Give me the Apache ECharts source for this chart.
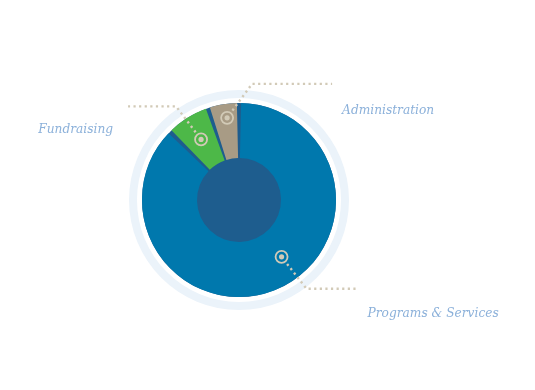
<!DOCTYPE html>
<html>
<head>
<meta charset="utf-8">
<script src="https://cdn.jsdelivr.net/npm/echarts@6/dist/echarts.min.js"></script>
<style>
  html, body { margin: 0; padding: 0; background: #ffffff; }
  #chart { width: 535px; height: 390px; }
</style>
</head>
<body>
<div id="chart"></div>
<script>
// ---- data ----
const categories = ['Programs & Services', 'Fundraising', 'Administration'];
const values = [87.4, 7.4, 5.2];
const sliceColors = ['#0078ad', '#4db848', '#a89b85'];

// ---- layout (not data) ----
const CX = 239, CY = 200, R_OUT = 97, R_IN = 42;
const markerLayout = [
  { frac: 0.455, r: 71, bend: [25, 32], run: 50, text: [11, 25], align: 'left' },
  { frac: 0.5, r: 71.5, bend: [-25, -33], run: -48, text: [-15, 23], align: 'right' },
  { frac: 0.56, r: 83, bend: [25, -34], run: 80, text: [10, 27], align: 'left' }
];
const dotColor = '#d2cab7';
const labelColor = '#8cb1da';

const chart = echarts.init(document.getElementById('chart'), null, { renderer: 'canvas' });

const total = values.reduce((a, b) => a + b, 0);
const graphics = [];
let cum = 0;
values.forEach((v, i) => {
  const m = markerLayout[i];
  const theta = (cum + m.frac * v) / total * 2 * Math.PI;
  cum += v;
  const mx = CX + m.r * Math.sin(theta);
  const my = CY - m.r * Math.cos(theta);
  const bx = mx + m.bend[0], by = my + m.bend[1];
  const len = Math.hypot(m.bend[0], m.bend[1]);
  const sx = mx + m.bend[0] / len * 9, sy = my + m.bend[1] / len * 9;
  const ex = bx + m.run, ey = by;
  graphics.push({
    type: 'polyline', silent: true, z: 10,
    shape: { points: [[sx, sy], [bx, by], [ex, ey]] },
    style: { stroke: dotColor, lineWidth: 2.4, lineDash: [2.2, 3.4], fill: null }
  });
  graphics.push({
    type: 'circle', silent: true, z: 11,
    shape: { cx: mx, cy: my, r: 6 },
    style: { stroke: dotColor, lineWidth: 1.8, fill: null }
  });
  graphics.push({
    type: 'circle', silent: true, z: 11,
    shape: { cx: mx, cy: my, r: 2.6 },
    style: { fill: dotColor }
  });
  graphics.push({
    type: 'text', silent: true, z: 11,
    x: ex + m.text[0], y: ey + m.text[1],
    style: {
      text: categories[i],
      fill: labelColor,
      font: 'italic 12.2px "DejaVu Serif"',
      align: m.align,
      verticalAlign: 'middle'
    }
  });
});

chart.setOption({
  animation: false,
  backgroundColor: '#ffffff',
  series: [
    {
      type: 'pie', silent: true, center: [CX, CY], radius: [102, 110],
      label: { show: false }, labelLine: { show: false },
      itemStyle: { color: '#ebf3fa' },
      data: [{ value: 1, name: 'ring' }]
    },
    {
      type: 'pie', silent: true, center: [CX, CY], radius: [0, R_OUT],
      label: { show: false }, labelLine: { show: false },
      itemStyle: { color: '#1e5d8e' },
      data: [{ value: 1, name: 'base' }]
    },
    {
      type: 'pie', silent: true, center: [CX, CY], radius: [R_IN, R_OUT],
      startAngle: 90, clockwise: true, padAngle: 2.5,
      label: { show: false }, labelLine: { show: false },
      data: categories.map((c, i) => ({ name: c, value: values[i], itemStyle: { color: sliceColors[i] } }))
    }
  ],
  graphic: graphics
});
</script>
</body>
</html>
